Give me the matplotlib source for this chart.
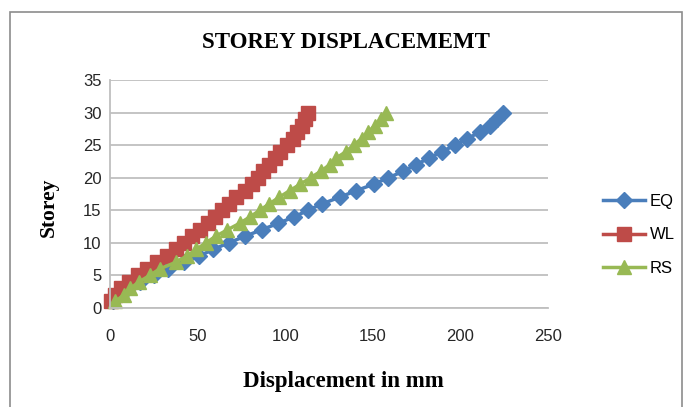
import matplotlib
matplotlib.use("Agg")
import matplotlib.pyplot as plt
from matplotlib.patches import Rectangle

storey = list(range(1, 31))
eq = [1.5, 5, 10, 17, 25, 33.3, 42.4, 51, 59, 67.7, 77, 86.5, 96, 105.2, 113,
      121.2, 131, 140.4, 150.5, 158.9, 167.5, 174.6, 182, 189.4, 197, 204, 211,
      216.7, 221, 224.6]
wl = [0.5, 3, 6.2, 10.8, 16, 21.4, 27, 32.5, 37.4, 42, 47, 51.5, 56, 60, 64,
      67.7, 72.2, 76.8, 81.3, 84.5, 87.2, 91, 94, 97.3, 101, 104.4, 107, 109.5,
      111.5, 113]
rs = [3, 7.9, 11.6, 16.5, 22.7, 28.3, 37.4, 44, 49.3, 54.7, 60.3, 67, 74, 80,
      85.5, 91, 96.6, 102.5, 108.6, 114.5, 120.4, 125.4, 129, 134.7, 139, 143.6,
      147.5, 151, 154.4, 157.6]
x_ticks = [0, 50, 100, 150, 200, 250]
y_ticks = [0, 5, 10, 15, 20, 25, 30, 35]

W, H = 684, 407
fig = plt.figure(figsize=(W / 100, H / 100), dpi=100)
fig.patch.set_facecolor("white")
fig.patches.append(Rectangle((10 / W, -0.05), (682 - 10) / W, 1.05 - 12 / H,
                             transform=fig.transFigure, fill=False,
                             edgecolor="#8c8c8c", linewidth=1.2))

ax = fig.add_axes([110 / W, 1 - 308 / H, (548 - 110) / W, (308 - 80) / H])
ax.set_xlim(0, 250)
ax.set_ylim(0, 35)
ax.set_xticks(x_ticks)
ax.set_yticks(y_ticks)

ax.grid(axis="y", color="#bfbfbf", linewidth=1.3)
ax.set_axisbelow(True)
for s in ["top", "right"]:
    ax.spines[s].set_visible(False)
ax.spines["left"].set_color("#bfbfbf")
ax.spines["bottom"].set_color("#bfbfbf")
ax.spines["left"].set_linewidth(1.3)
ax.spines["bottom"].set_linewidth(1.3)
ax.tick_params(axis="both", length=0, labelsize=12, colors="#262626")
ax.tick_params(axis="x", pad=15)
ax.tick_params(axis="y", pad=6)
for lab in ax.get_xticklabels() + ax.get_yticklabels():
    lab.set_family("Liberation Sans")

l1, = ax.plot(eq, storey, color="#4A7EBB", marker="D", markersize=8, linewidth=2.5,
              label="EQ", clip_on=False)
l2, = ax.plot(wl, storey, color="#BE4B48", marker="s", markersize=9.5, linewidth=2.5,
              label="WL", clip_on=False)
l3, = ax.plot(rs, storey, color="#98B954", marker="^", markersize=10, linewidth=2.5,
              label="RS", clip_on=False)

fig.text(346 / W, 1 - 42 / H, "STOREY DISPLACEMEMT",
         ha="center", va="center", fontsize=16.5, fontweight="bold",
         family="Liberation Serif")
fig.text(343 / W, 1 - 381 / H, "Displacement in mm", ha="center", va="center",
         fontsize=16.5, fontweight="bold", family="Liberation Serif")
fig.text(49 / W, 1 - 207 / H, "Storey", ha="center", va="center", rotation=90,
         fontsize=15.5, fontweight="bold", family="Liberation Serif")

fig.legend(handles=[l1, l2, l3], loc="center left",
           bbox_to_anchor=(588 / W, 1 - 235 / H), frameon=False,
           prop={"family": "Liberation Sans", "size": 12},
           handlelength=2.5, labelspacing=1.1, handletextpad=0.3)

fig.savefig("out.png", dpi=100, facecolor="white")
